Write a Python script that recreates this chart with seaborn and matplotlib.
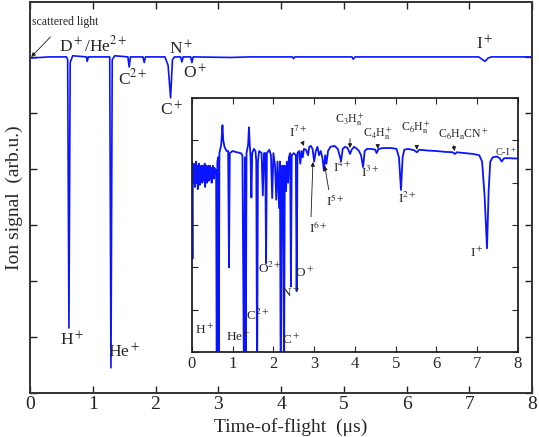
import pandas as pd
import matplotlib.pyplot as plt
import seaborn as sns

# main spectrum (time in us, signal in arb. units, baseline = 0)
main_t = [0.0, 0.02, 0.3, 0.58, 0.60, 0.62, 0.64, 0.68, 0.9, 0.91, 0.93, 1.27, 1.29, 1.31, 1.35,
          1.56, 1.58, 1.60, 1.80, 1.82, 1.84, 2.15, 2.20, 2.24, 2.27, 2.30, 2.40, 2.42, 2.44,
          2.56, 2.58, 2.60, 3.2, 3.5, 4.18, 4.20, 4.22, 5.13, 5.15, 5.18, 7.15, 7.25, 7.30, 7.35, 8.0]
main_s = [0.0, -0.02, 0.0, 0.0, -0.05, -4.84, -0.1, 0.02, 0.0, -0.08, 0.0, 0.0, -5.55, -0.05, 0.02,
          0.0, -0.18, 0.0, 0.0, -0.1, 0.0, 0.0, -0.15, -0.73, -0.05, 0.0, 0.0, -0.09, 0.0,
          0.0, -0.1, 0.0, -0.01, 0.0, 0.0, -0.03, 0.0, 0.0, -0.04, 0.0, 0.0, -0.08, -0.02, 0.0, 0.0]

# zoomed spectrum for the inset
inset_t = [0.00, 0.015, 0.025, 0.035, 0.045, 0.055, 0.065, 0.075, 0.085, 0.095, 0.105, 0.115,
           0.125, 0.135, 0.145, 0.155, 0.165, 0.175, 0.185, 0.195, 0.205, 0.215, 0.225, 0.235,
           0.245, 0.255, 0.265, 0.275, 0.285, 0.295, 0.305, 0.315, 0.325, 0.335, 0.345, 0.355,
           0.365, 0.375, 0.385, 0.395, 0.405, 0.415, 0.425, 0.435, 0.445, 0.455, 0.465, 0.475,
           0.485, 0.495, 0.505, 0.515, 0.525, 0.535, 0.545, 0.555, 0.565, 0.575,
           0.595, 0.61, 0.625, 0.645, 0.66, 0.675, 0.72, 0.75, 0.77, 0.80, 0.85, 0.89, 0.91, 0.93,
           1.0, 1.1, 1.2, 1.24, 1.28, 1.30, 1.32, 1.34, 1.38, 1.40, 1.42, 1.44, 1.46, 1.48, 1.52,
           1.56, 1.58, 1.60, 1.62, 1.65, 1.71, 1.74, 1.77, 1.80, 1.82, 1.84, 1.90, 1.94, 1.97,
           2.0, 2.04, 2.07, 2.10, 2.14, 2.16, 2.18, 2.21, 2.24, 2.26, 2.28, 2.31, 2.33, 2.36,
           2.38, 2.41, 2.43, 2.45, 2.5, 2.55, 2.57, 2.59, 2.63, 2.66, 2.69, 2.72, 2.75, 2.8, 2.85,
           2.88, 2.92, 2.96, 3.0, 3.04, 3.08, 3.12, 3.16, 3.2, 3.24, 3.27, 3.3, 3.34, 3.4, 3.5,
           3.58, 3.62, 3.66, 3.70, 3.76, 3.82, 3.88, 3.92, 3.98, 4.05, 4.1, 4.15, 4.2, 4.24, 4.3,
           4.4, 4.5, 4.53, 4.58, 4.7, 4.9, 5.02, 5.08, 5.13, 5.17, 5.21, 5.3, 5.45, 5.52, 5.58,
           5.8, 6.0, 6.2, 6.4, 6.45, 6.5, 6.7, 6.9, 7.05, 7.12, 7.18, 7.24, 7.28, 7.32, 7.38,
           7.48, 7.55, 7.6, 7.66, 7.8, 8.0]
inset_s = [-1.5, -3.8, -1.6, -2.0, -1.55, -1.9, -1.7, -2.1, -1.6, -1.85, -1.5, -2.0,
           -1.75, -1.6, -2.15, -1.7, -1.9, -1.55, -1.8, -2.05, -1.65, -1.9, -1.6, -1.85,
           -1.7, -2.0, -1.6, -1.8, -1.95, -1.65, -1.85, -1.55, -2.1, -1.7, -1.9, -1.6,
           -1.8, -2.0, -1.65, -1.85, -1.6, -1.95, -1.7, -1.8, -1.6, -1.9, -1.75, -1.65,
           -2.0, -1.7, -1.85, -1.6, -1.8, -1.7, -1.9, -1.65, -1.8, -1.75,
           -1.7, -7.0, -1.5, -1.4, -7.0, -1.3, -1.1, -0.64, -1.0, -1.15, -1.25, -1.25, -4.0, -1.3,
           -1.25, -1.28, -1.3, -1.35, -7.0, -1.4, -7.0, -1.3, -1.1, -0.69, -1.1, -1.4, -2.35, -1.3, -1.2,
           -1.25, -1.5, -7.0, -1.5, -1.25, -1.3, -2.3, -1.3, -1.3, -3.9, -1.3, -1.22, -1.35, -2.36,
           -1.3, -1.6, -2.4, -1.5, -2.6, -1.5, -7.0, -1.6, -1.6, -7.0, -1.6, -2.2, -1.5, -2.0,
           -1.4, -1.3, -4.45, -1.35, -1.3, -1.35, -4.56, -1.3, -1.25, -1.55, -1.25, -1.4, -1.2, -1.22, -1.35,
           -1.15, -1.13, -1.2, -1.5, -1.25, -1.15, -1.35, -1.25, -1.4, -1.72, -1.35, -1.55, -1.25, -1.15, -1.13,
           -1.2, -1.35, -1.49, -1.2, -1.15, -1.18, -1.32, -1.22, -1.15, -1.2, -1.25, -1.35, -1.63, -1.25, -1.2,
           -1.2, -1.22, -1.3, -1.2, -1.18, -1.18, -1.2, -1.4, -2.17, -1.4, -1.22, -1.2, -1.23, -1.28, -1.22,
           -1.24, -1.25, -1.27, -1.28, -1.32, -1.28, -1.3, -1.32, -1.35, -1.5, -2.3, -3.55, -2.2, -1.5, -1.4,
           -1.38, -1.42, -1.5, -1.42, -1.42, -1.43]

main_df = pd.DataFrame({'t': main_t, 's': main_s})
inset_df = pd.DataFrame({'t': inset_t, 's': inset_s})

sns.set_theme(style='ticks')
plt.rcParams['font.family'] = ['Liberation Serif', 'DejaVu Serif']
plt.rcParams['mathtext.fontset'] = 'stix'

fig = plt.figure(figsize=(5.39, 4.37), dpi=100)
ax = fig.add_axes([0.0557, 0.1007, 0.9314, 0.8947])
sns.lineplot(data=main_df, x='t', y='s', sort=False, estimator=None, color='#0a14ff', lw=1.2, ax=ax)
ax.set_xlim(0, 8)
ax.set_ylim(-6, 0.98)
ax.set_xticks(range(9))
ax.set_yticks(range(-6, 1))
ax.set_yticklabels([])
ax.tick_params(direction='in', length=5, width=1, top=True, right=True, labelsize=14, pad=2, colors='#222222')
for sp in ax.spines.values():
    sp.set_linewidth(1.4)
    sp.set_color('#333333')
ax.set_xlabel('Time-of-flight  (μs)', fontsize=14, labelpad=0)
ax.set_ylabel('Ion signal  (arb.u.)', fontsize=14)
ax.yaxis.set_label_coords(-0.014, 0.5)
ax.xaxis.set_label_coords(0.52, -0.064)

# main labels
fs = 12.5
ax.annotate('scattered light', xy=(0.02, 0.0), xytext=(0.03, 0.63), fontsize=8.5, ha='left', va='center',
            arrowprops=dict(arrowstyle='-|>', lw=0.6, color='k', mutation_scale=6, shrinkA=6, shrinkB=0))
ax.text(1.0, 0.21, r'D$^+$/He$^{2+}$', fontsize=fs, ha='center', va='center')
ax.text(1.63, -0.38, r'C$^{2+}$', fontsize=fs, ha='center', va='center')
ax.text(2.41, 0.14, r'N$^+$', fontsize=fs, ha='center', va='center')
ax.text(2.63, -0.29, r'O$^+$', fontsize=fs, ha='center', va='center')
ax.text(2.26, -0.95, r'C$^+$', fontsize=fs, ha='center', va='center')
ax.text(7.25, 0.23, r'I$^+$', fontsize=fs, ha='center', va='center')
ax.text(0.67, -5.05, r'H$^+$', fontsize=fs, ha='center', va='center')
ax.text(1.5, -5.27, r'He$^+$', fontsize=fs, ha='center', va='center')

# inset
axi = fig.add_axes([0.356, 0.1945, 0.605, 0.581])
sns.lineplot(data=inset_df, x='t', y='s', sort=False, estimator=None, color='#0a14ff', lw=1.3, ax=axi)
axi.set_xlim(0, 8)
axi.set_ylim(-6, 0)
axi.set_xticks(range(9))
axi.set_yticks(range(-6, 1))
axi.set_yticklabels([])
axi.set_xlabel('')
axi.set_ylabel('')
axi.tick_params(direction='in', length=4, width=0.8, top=True, right=True, labelsize=12, pad=3)
for sp in axi.spines.values():
    sp.set_linewidth(1.3)
    sp.set_color('#222222')

fi = 9.5
ap = dict(arrowstyle='-|>', lw=0.6, color='k', mutation_scale=6, shrinkA=0, shrinkB=0)
for txt, x, y in [(r'H$^+$', 0.32, -5.48), (r'He$^+$', 1.15, -5.63), (r'C$^{2+}$', 1.62, -5.13),
                  (r'C$^+$', 2.43, -5.72), (r'O$^{2+}$', 1.91, -4.02), (r'N$^+$', 2.43, -4.59),
                  (r'O$^+$', 2.77, -4.14), (r'I$^{4+}$', 3.7, -1.65), (r'I$^{3+}$', 4.37, -1.75),
                  (r'I$^{2+}$', 5.28, -2.36), (r'I$^+$', 7.0, -3.66)]:
    axi.text(x, y, txt, fontsize=fi, ha='center', va='center')
axi.text(7.7, -1.28, r'C-I$^+$', fontsize=7.5, ha='center', va='center')

axi.annotate(r'I$^{7+}$', xy=(2.75, -1.13), xytext=(2.62, -0.82), fontsize=fi, ha='center', va='center',
             arrowprops=dict(ap, shrinkA=5))
axi.annotate(r'I$^{6+}$', xy=(2.97, -1.51), xytext=(3.1, -3.07), fontsize=fi, ha='center', va='center',
             arrowprops=dict(ap, shrinkA=0, relpos=(0.1, 0.9)))
axi.annotate(r'I$^{5+}$', xy=(3.26, -1.6), xytext=(3.51, -2.43), fontsize=fi, ha='center', va='center',
             arrowprops=dict(ap, shrinkA=0, relpos=(0.2, 0.95)))
axi.annotate(r'C$_3$H$_\mathrm{n}^+$', xy=(3.88, -1.18), xytext=(3.88, -0.52), fontsize=8.5, ha='center', va='center',
             arrowprops=dict(ap, shrinkA=5))
axi.annotate(r'C$_4$H$_\mathrm{n}^+$', xy=(4.56, -1.2), xytext=(4.56, -0.83), fontsize=8.5, ha='center', va='center',
             arrowprops=dict(ap, shrinkA=5))
axi.annotate(r'C$_6$H$_\mathrm{n}^+$', xy=(5.52, -1.22), xytext=(5.5, -0.71), fontsize=8.5, ha='center', va='center',
             arrowprops=dict(ap, shrinkA=5))
axi.annotate(r'C$_6$H$_\mathrm{n}$CN$^+$', xy=(6.45, -1.25), xytext=(6.65, -0.87), fontsize=8.5, ha='center', va='center',
             arrowprops=dict(ap, shrinkA=5, relpos=(0.3, 0.0)))

fig.savefig('out.png', dpi=100)
